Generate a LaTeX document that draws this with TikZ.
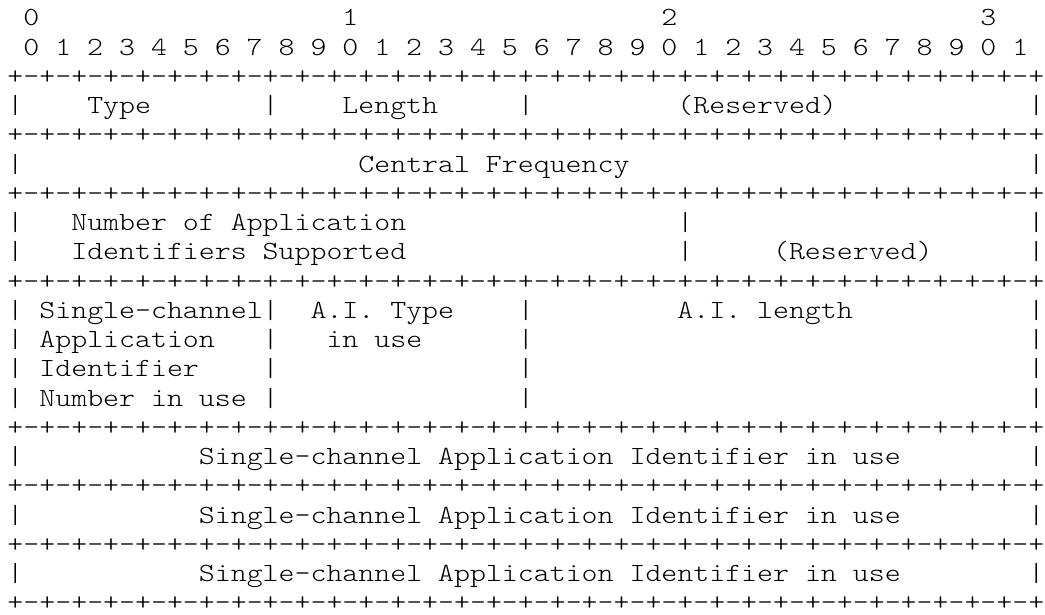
\documentclass[tikz,border=0pt]{standalone}
\usepackage{fontspec}
\newfontfamily\asc{lmmonolt10-regular.otf}
\newcommand\spc[1]{\kern#1\fontcharwd\font`\M\relax}
\newcommand\pmx{+-+-+-+-}
\newcommand\brd{\pmx\pmx\pmx\pmx\pmx\pmx\pmx\pmx+}
\tikzset{ascii/.style={anchor=base west, inner sep=0pt, outer sep=0pt, xscale=1.1596,
  text depth=0pt, font=\asc\fontsize{26.2}{29.25}\selectfont\frenchspacing, text=black}}
\newcommand\asrow[3]{\node[ascii] (#1) at (7.5,{589.0-29.25*(#2-1)}) {#3};}
\begin{document}
\begin{tikzpicture}[x=1pt,y=1pt]
\useasboundingbox (0,0) rectangle (1045,615);
\asrow{r1}{1}{\spc{1}0\spc{19}1\spc{19}2\spc{19}3}
\asrow{r2}{2}{\spc{1}0 1 2 3 4 5 6 7 8 9 0 1 2 3 4 5 6 7 8 9 0 1 2 3 4 5 6 7 8 9 0 1}
\asrow{r3}{3}{\brd}
\asrow{r4}{4}{|\spc{4}Type\spc{7}|\spc{4}Length\spc{5}|\spc{9}(Reserved)\spc{12}|}
\asrow{r5}{5}{\brd}
\asrow{r6}{6}{|\spc{21}Central Frequency\spc{25}|}
\asrow{r7}{7}{\brd}
\asrow{r8}{8}{|\spc{3}Number of Application\spc{17}|\spc{21}|}
\asrow{r9}{9}{|\spc{3}Identifiers Supported\spc{17}|\spc{5}(Reserved)\spc{6}|}
\asrow{r10}{10}{\brd}
\asrow{r11}{11}{|\spc{1}Single-channel|\spc{2}A.I. Type\spc{4}|\spc{9}A.I. length\spc{11}|}
\asrow{r12}{12}{|\spc{1}Application\spc{3}|\spc{3}in use\spc{6}|\spc{31}|}
\asrow{r13}{13}{|\spc{1}Identifier\spc{4}|\spc{15}|\spc{31}|}
\asrow{r14}{14}{|\spc{1}Number in use\spc{1}|\spc{15}|\spc{31}|}
\asrow{r15}{15}{\brd}
\asrow{r16}{16}{|\spc{11}Single-channel Application Identifier in use\spc{8}|}
\asrow{r17}{17}{\brd}
\asrow{r18}{18}{|\spc{11}Single-channel Application Identifier in use\spc{8}|}
\asrow{r19}{19}{\brd}
\asrow{r20}{20}{|\spc{11}Single-channel Application Identifier in use\spc{8}|}
\asrow{r21}{21}{\brd}
\end{tikzpicture}
\end{document}
